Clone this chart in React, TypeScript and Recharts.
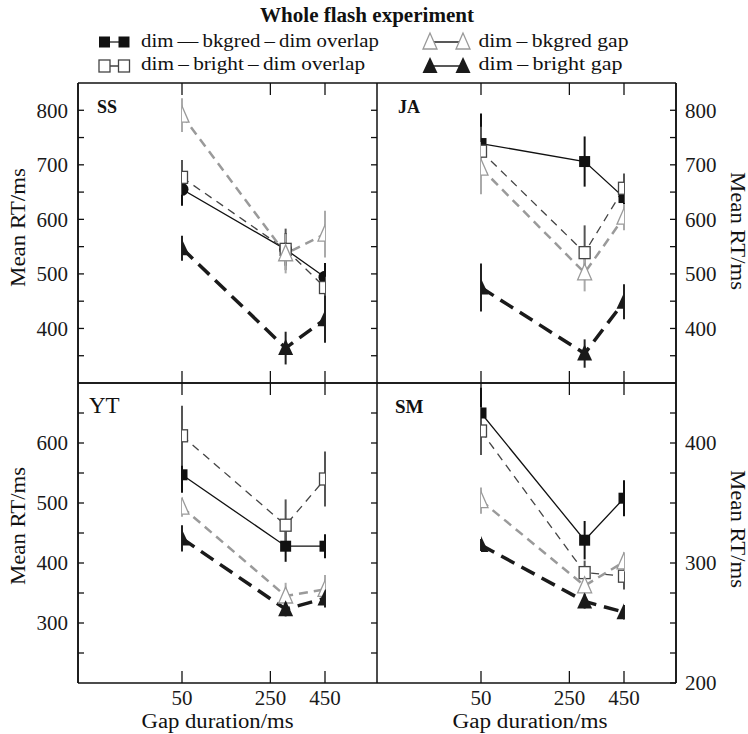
import React from "react";
import { LineChart, Line, XAxis, YAxis, ErrorBar } from "recharts";

const W = 748;
const H = 734;

// gap durations (ms) where the points sit, and the labelled ticks
const gaps = [50, 300, 450];
const gapTicks = [50, 250, 450];

const seriesNames = [
  "dim\u2009\u2014\u2009bkgred\u2009\u2013\u2009dim overlap",
  "dim\u2009\u2013\u2009bright\u2009\u2013\u2009dim overlap",
  "dim\u2009\u2013\u2009bkgred gap",
  "dim\u2009\u2013\u2009bright gap",
];

// SS
const ssBkgredOverlap = [655, 545, 494];
const ssBkgredOverlapErr = [30, 30, 26];
const ssBrightOverlap = [677, 545, 475];
const ssBrightOverlapErr = [32, 38, 20];
const ssBkgredGap = [791, 537, 573];
const ssBkgredGapErr = [31, 36, 43];
const ssBrightGap = [547, 364, 417];
const ssBrightGapErr = [23, 30, 43];

// JA
const jaBkgredOverlap = [739, 706, 640];
const jaBkgredOverlapErr = [55, 46, 25];
const jaBrightOverlap = [725, 539, 657];
const jaBrightOverlapErr = [45, 50, 27];
const jaBkgredGap = [694, 502, 604];
const jaBkgredGapErr = [48, 34, 24];
const jaBrightGap = [475, 354, 449];
const jaBrightGapErr = [44, 26, 32];

// YT
const ytBkgredOverlap = [547, 428, 428];
const ytBkgredOverlapErr = [30, 26, 20];
const ytBrightOverlap = [612, 463, 540];
const ytBrightOverlapErr = [50, 43, 46];
const ytBkgredGap = [493, 345, 356];
const ytBkgredGapErr = [16, 22, 24];
const ytBrightGap = [441, 323, 341];
const ytBrightGapErr = [22, 12, 15];

// SM
const smBkgredOverlap = [425, 319, 354];
const smBkgredOverlapErr = [21, 16, 15];
const smBrightOverlap = [410, 292, 289];
const smBrightOverlapErr = [20, 10, 11];
const smBkgredGap = [352, 281, 301];
const smBkgredGapErr = [11, 8, 8];
const smBrightGap = [315, 268, 259];
const smBrightGapErr = [5, 6, 6];

const ticksA = [350, 400, 450, 500, 550, 600, 650, 700, 750, 800];
const ticksYT = [250, 300, 350, 400, 450, 500, 550, 600, 650];
const ticksSM = [200, 225, 250, 275, 300, 325, 350, 375, 400, 425];

const STYLES = [
  { stroke: "#111", width: 1.3, dash: undefined, err: "#111", marker: "fsq" },
  { stroke: "#444", width: 1.3, dash: "8 6", err: "#555", marker: "osq" },
  { stroke: "#9a9a9a", width: 2.5, dash: "9 6", err: "#aaa", marker: "otri" },
  { stroke: "#1a1a1a", width: 3.5, dash: "15 8", err: "#222", marker: "ftri" },
];

const toPoints = (vals: number[], errs: number[]) =>
  gaps.map((x, i) => ({ x, y: vals[i], e: errs[i] }));

const panels = [
  {
    name: "SS", side: "left", row: "top", domain: [300, 850], ticks: ticksA, major: 100, circle: true,
    series: [
      toPoints(ssBkgredOverlap, ssBkgredOverlapErr),
      toPoints(ssBrightOverlap, ssBrightOverlapErr),
      toPoints(ssBkgredGap, ssBkgredGapErr),
      toPoints(ssBrightGap, ssBrightGapErr),
    ],
  },
  {
    name: "JA", side: "right", row: "top", domain: [300, 850], ticks: ticksA, major: 100,
    series: [
      toPoints(jaBkgredOverlap, jaBkgredOverlapErr),
      toPoints(jaBrightOverlap, jaBrightOverlapErr),
      toPoints(jaBkgredGap, jaBkgredGapErr),
      toPoints(jaBrightGap, jaBrightGapErr),
    ],
  },
  {
    name: "YT", side: "left", row: "bottom", domain: [200, 700], ticks: ticksYT, major: 100,
    series: [
      toPoints(ytBkgredOverlap, ytBkgredOverlapErr),
      toPoints(ytBrightOverlap, ytBrightOverlapErr),
      toPoints(ytBkgredGap, ytBkgredGapErr),
      toPoints(ytBrightGap, ytBrightGapErr),
    ],
  },
  {
    name: "SM", side: "right", row: "bottom", domain: [200, 450], ticks: ticksSM, major: 100,
    series: [
      toPoints(smBkgredOverlap, smBkgredOverlapErr),
      toPoints(smBrightOverlap, smBrightOverlapErr),
      toPoints(smBkgredGap, smBkgredGapErr),
      toPoints(smBrightGap, smBrightGapErr),
    ],
  },
];

function Marker({ kind, cx, cy }: { kind: string; cx: number; cy: number }) {
  switch (kind) {
    case "circle":
      return <circle cx={cx} cy={cy} r={6.5} fill="#111" />;
    case "fsq":
      return <rect x={cx - 5.5} y={cy - 5.5} width={11} height={11} fill="#111" />;
    case "osq":
      return <rect x={cx - 5.5} y={cy - 6} width={11} height={12} fill="#fff" stroke="#444" strokeWidth={1.3} />;
    case "otri":
      return (
        <polygon
          points={`${cx},${cy - 9} ${cx - 7},${cy + 7} ${cx + 7},${cy + 7}`}
          fill="#fff"
          stroke="#999"
          strokeWidth={1.3}
        />
      );
    default:
      return <polygon points={`${cx},${cy - 9} ${cx - 7.5},${cy + 7} ${cx + 7.5},${cy + 7}`} fill="#1a1a1a" />;
  }
}

const dotFor = (kind: string) => (p: any) => {
  const { cx, cy, index } = p;
  if (cx == null || cy == null) return <g key={`d-${index}`} />;
  return (
    <g key={`d-${index}`}>
      <Marker kind={kind} cx={cx} cy={cy} />
    </g>
  );
};

const tickFont = { fill: "#1a1a1a", fontSize: 21, fontFamily: "Liberation Serif" };
const frame = { stroke: "#111", strokeWidth: 1.5 };
const tickStroke = { stroke: "#111", strokeWidth: 1.3 };
const blank = () => "";

function Panel({ p }: { p: any }) {
  const isLeft = p.side === "left";
  const isBottom = p.row === "bottom";
  const plotLeft = isLeft ? 78 : 377;
  const plotRight = isLeft ? 377 : 676;
  const plotTop = isBottom ? 383 : 83;
  const plotBottom = isBottom ? 683 : 383;
  const yW = 40;
  const xH = isBottom ? 30 : 0;
  const margin = {
    left: isLeft ? plotLeft - yW : plotLeft,
    right: isLeft ? W - plotRight : W - plotRight - yW,
    top: plotTop,
    bottom: H - plotBottom - xH,
  };
  const fmtY = (v: number) => (v % p.major === 0 ? String(v) : "");
  const xPad = { left: 104, right: 52 };
  const xCommon = {
    type: "number" as const,
    dataKey: "x",
    scale: "sqrt" as const,
    domain: [50, 450],
    allowDataOverflow: true,
    ticks: gapTicks,
    interval: 0 as const,
    padding: xPad,
  };
  const yCommon = {
    type: "number" as const,
    domain: p.domain,
    allowDataOverflow: true,
    ticks: p.ticks,
    interval: 0 as const,
  };

  return (
    <LineChart width={W} height={H} margin={margin} style={{ position: "absolute", left: 0, top: 0 }}>
      {/* inward tick marks + frame, drawn by mirrored axes */}
      <XAxis {...xCommon} xAxisId="bt" mirror height={20} tickSize={12} tickFormatter={blank} axisLine={frame} tickLine={tickStroke} />
      <XAxis {...xCommon} xAxisId="tt" orientation="top" mirror height={20} tickSize={12} tickFormatter={blank} axisLine={frame} tickLine={tickStroke} />
      {isBottom && (
        <XAxis
          {...xCommon}
          xAxisId="b"
          height={xH}
          tickSize={0}
          tickMargin={7}
          tick={tickFont}
          tickLine={false}
          axisLine={false}
        />
      )}
      <YAxis
        {...yCommon}
        yAxisId="m"
        orientation={isLeft ? "left" : "right"}
        width={yW}
        tickSize={0}
        tickMargin={isLeft ? 10 : 9}
        tick={tickFont}
        tickFormatter={fmtY}
        tickLine={false}
        axisLine={frame}
      />
      <YAxis {...yCommon} yAxisId="mt" orientation={isLeft ? "left" : "right"} mirror width={20} tickSize={6} tickFormatter={blank} axisLine={frame} tickLine={tickStroke} />
      {isLeft && (
        <YAxis {...yCommon} yAxisId="s" orientation="right" mirror width={20} tickSize={6} tickFormatter={blank} axisLine={frame} tickLine={tickStroke} />
      )}
      {p.series.map((pts: any[], i: number) => {
        const st = STYLES[i];
        const kind = i === 0 && p.circle ? "circle" : st.marker;
        return (
          <Line
            key={i}
            xAxisId="bt"
            yAxisId="m"
            data={pts}
            dataKey="y"
            type="linear"
            stroke={st.stroke}
            strokeWidth={st.width}
            strokeDasharray={st.dash}
            dot={dotFor(kind)}
            activeDot={false}
            isAnimationActive={false}
          >
            <ErrorBar dataKey="e" direction="y" width={0} stroke={st.err} strokeWidth={2} />
          </Line>
        );
      })}
    </LineChart>
  );
}

const serif = "Liberation Serif";

function Overlay() {
  const legendRows = [
    { x0: 104.5, x1: 124, tx: 141, cy: 42, ty: 47, i: 0, len: 238 },
    { x0: 104.5, x1: 124, tx: 141, cy: 66, ty: 70, i: 1, len: 224 },
    { x0: 430, x1: 463, tx: 478.5, cy: 42, ty: 47, i: 2, len: 150 },
    { x0: 430, x1: 463, tx: 478.5, cy: 66, ty: 70, i: 3, len: 144 },
  ];
  const legendMarker = ["fsq", "osq", "otri", "ftri"];
  const axisTitle = { fontFamily: serif, fontSize: 20, fill: "#111", textAnchor: "middle" as const, lengthAdjust: "spacingAndGlyphs" };
  return (
    <svg width={W} height={H} style={{ position: "absolute", left: 0, top: 0, pointerEvents: "none" }}>
      <text x={367} y={22} textAnchor="middle" fontFamily={serif} fontWeight="bold" fontSize={20} textLength={214} lengthAdjust="spacingAndGlyphs" fill="#111">
        Whole flash experiment
      </text>
      {legendRows.map((r) => (
        <g key={r.i}>
          <line x1={r.x0} x2={r.x1} y1={r.cy} y2={r.cy} stroke="#222" strokeWidth={1.3} />
          <Marker kind={legendMarker[r.i]} cx={r.x0} cy={r.cy} />
          <Marker kind={legendMarker[r.i]} cx={r.x1} cy={r.cy} />
          <text x={r.tx} y={r.ty} fontFamily={serif} fontSize={18} textLength={r.len} lengthAdjust="spacingAndGlyphs" fill="#111">
            {seriesNames[r.i]}
          </text>
        </g>
      ))}
      <text transform="translate(25,227.5) rotate(-90)" {...axisTitle} textLength={119}>Mean RT/ms</text>
      <text transform="translate(25,526) rotate(-90)" {...axisTitle} textLength={118}>Mean RT/ms</text>
      <text transform="translate(731,231) rotate(90)" {...axisTitle} textLength={118}>Mean RT/ms</text>
      <text transform="translate(731,529) rotate(90)" {...axisTitle} textLength={118}>Mean RT/ms</text>
      <text x={217.5} y={728} {...axisTitle} textLength={152}>Gap duration/ms</text>
      <text x={530} y={728} {...axisTitle} textLength={155}>Gap duration/ms</text>
      <text x={97} y={113} fontFamily={serif} fontWeight="bold" fontSize={18} fill="#111">SS</text>
      <text x={398} y={113} fontFamily={serif} fontWeight="bold" fontSize={18} fill="#111">JA</text>
      <text x={89} y={413} fontFamily={serif} fontSize={23} fill="#111">YT</text>
      <text x={395} y={413} fontFamily={serif} fontWeight="bold" fontSize={19} fill="#111">SM</text>
    </svg>
  );
}

export default function App() {
  return (
    <div style={{ position: "absolute", left: 0, top: 0, width: W, height: H, background: "#fff", fontFamily: serif }}>
      {panels.map((p) => (
        <Panel key={p.name} p={p} />
      ))}
      <Overlay />
    </div>
  );
}
